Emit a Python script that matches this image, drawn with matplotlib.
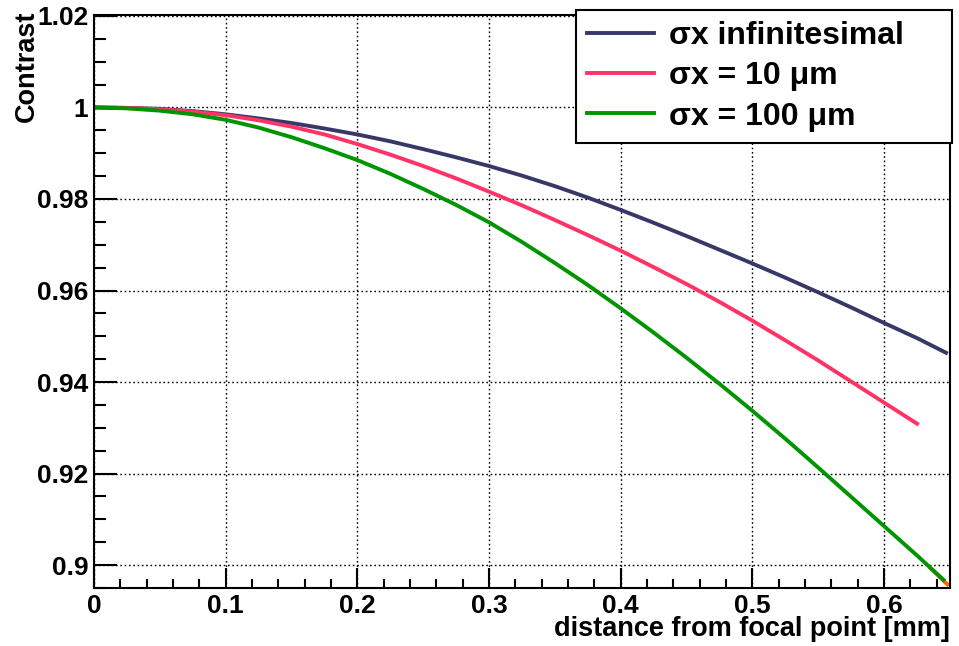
import matplotlib
matplotlib.use('Agg')
import matplotlib.pyplot as plt
from matplotlib.ticker import MultipleLocator, FormatStrFormatter

plt.rcParams['font.family'] = ['Liberation Sans', 'DejaVu Sans']
plt.rcParams['font.weight'] = 'bold'

# distance from focal point [mm] and contrast
dist = [0.0, 0.025, 0.05, 0.075, 0.1, 0.125, 0.15, 0.175, 0.2, 0.225, 0.25, 0.275, 0.3,
        0.325, 0.35, 0.375, 0.4, 0.425, 0.45, 0.475, 0.5, 0.525, 0.55, 0.575, 0.6, 0.625,
        0.647]
contrast_inf = [1.0, 0.9999, 0.9997, 0.9992, 0.9985, 0.9976, 0.9966, 0.9954, 0.9941,
                0.9926, 0.9909, 0.9891, 0.9872, 0.9851, 0.9828, 0.9803, 0.9776, 0.9748,
                0.9719, 0.9689, 0.9659, 0.9628, 0.9596, 0.9563, 0.9529, 0.9496, 0.9464]

dist_10 = [0.0, 0.025, 0.05, 0.075, 0.1, 0.125, 0.15, 0.175, 0.2, 0.225, 0.25, 0.275, 0.3,
           0.325, 0.35, 0.375, 0.4, 0.425, 0.45, 0.475, 0.5, 0.525, 0.55, 0.575, 0.6, 0.625]
contrast_10 = [1.0, 0.9999, 0.9996, 0.9991, 0.9983, 0.9972, 0.9958, 0.9941, 0.9920,
               0.9897, 0.9872, 0.9845, 0.9816, 0.9786, 0.9754, 0.9721, 0.9687, 0.9651,
               0.9614, 0.9575, 0.9534, 0.9491, 0.9447, 0.9401, 0.9355, 0.9309]

dist_100 = [0.0, 0.025, 0.05, 0.075, 0.1, 0.125, 0.15, 0.175, 0.2, 0.225, 0.25, 0.275, 0.3,
            0.325, 0.35, 0.375, 0.4, 0.425, 0.45, 0.475, 0.5, 0.525, 0.55, 0.575, 0.6, 0.625,
            0.645]
contrast_100 = [1.0, 0.9998, 0.9993, 0.9985, 0.9973, 0.9956, 0.9935, 0.9911, 0.9885,
                0.9855, 0.9822, 0.9787, 0.9749, 0.9706, 0.9660, 0.9612, 0.9561, 0.9508,
                0.9453, 0.9396, 0.9337, 0.9276, 0.9213, 0.9149, 0.9085, 0.9021, 0.8968]

# small orange piece sticking out at the end of the green curve
dist_tail = [0.635, 0.648]
contrast_tail = [0.8994, 0.8958]

labels = ['\u03c3x infinitesimal', '\u03c3x = 10 \u03bcm', '\u03c3x = 100 \u03bcm']
colors = ['#383868', '#ff3366', '#009400']

fig = plt.figure(figsize=(9.59, 6.46), dpi=100)
ax = fig.add_axes([94 / 959, 1 - 588 / 646, 856 / 959, 573 / 646])

ax.plot(dist_tail, contrast_tail, color='#ff6600', lw=2.8)
l1, = ax.plot(dist, contrast_inf, color=colors[0], lw=2.8)
l2, = ax.plot(dist_10, contrast_10, color=colors[1], lw=2.8)
l3, = ax.plot(dist_100, contrast_100, color=colors[2], lw=2.8)

ax.set_xlim(0, 0.65)
ax.set_ylim(0.895, 1.0202)

ax.xaxis.set_major_locator(MultipleLocator(0.1))
ax.xaxis.set_minor_locator(MultipleLocator(0.02))
ax.yaxis.set_major_locator(MultipleLocator(0.02))
ax.yaxis.set_minor_locator(MultipleLocator(0.005))
ax.xaxis.set_major_formatter(FormatStrFormatter('%g'))
ax.yaxis.set_major_formatter(FormatStrFormatter('%g'))

ax.tick_params(which='both', direction='in', top=False, right=False, width=1.5,
               color='black', labelsize=19)
ax.tick_params(axis='y', which='major', length=16.5, pad=4)
ax.tick_params(axis='y', which='minor', length=8.6)
ax.tick_params(axis='x', which='major', length=14.4, pad=4)
ax.tick_params(axis='x', which='minor', length=6.8)

for s in ax.spines.values():
    s.set_linewidth(1.5)

ax.grid(True, which='major', color='black', linestyle=(0, (1.2, 1.9)), linewidth=1.0)

ax.set_xlabel('distance from focal point [mm]', loc='right', fontsize=19.5,
              fontweight='bold', labelpad=-1)
ax.set_ylabel('Contrast', loc='top', fontsize=19.5, fontweight='bold')
ax.yaxis.set_label_coords(-0.063, 1.008)

leg = fig.legend([l1, l2, l3], labels, loc='upper left',
                 bbox_to_anchor=(576 / 959, 1 - 145 / 646, 376 / 959, 135 / 646),
                 mode='expand', borderaxespad=0, fancybox=False, framealpha=1,
                 edgecolor='black', handlelength=2.1, handletextpad=0.45,
                 borderpad=0.35, labelspacing=0.32, prop={'weight': 'bold', 'size': 23})
leg.get_frame().set_linewidth(1.5)

fig.savefig('out.png', dpi=100)
